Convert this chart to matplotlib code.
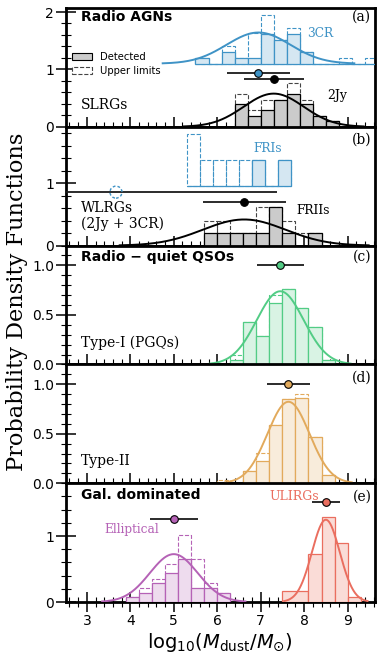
import numpy as np
import matplotlib.pyplot as plt
from matplotlib.patches import Patch
from matplotlib.ticker import MultipleLocator

# ---- data ----
# (a) SLRGs: 3CR (offset) and 2Jy
cr3_edges = [5.5, 5.8, 6.1, 6.4, 6.7, 7.0, 7.3, 7.6, 7.9, 8.2, 8.5, 8.8, 9.1, 9.4, 9.7]
cr3_det = [0.09, 0, 0.21, 0.09, 0.09, 0.52, 0.42, 0.52, 0.21, 0, 0, 0, 0, 0]
cr3_ul = [0.09, 0, 0.30, 0.09, 0.53, 0.84, 0.42, 0.62, 0.21, 0, 0, 0.10, 0, 0.10]
cr3_mu, cr3_sig, cr3_y = 6.95, 0.735, 0.944
cr3_base = 1.1

jy2_edges = [6.4, 6.7, 7.0, 7.3, 7.6, 7.9, 8.2, 8.5, 8.8]
jy2_det = [0.39, 0.19, 0.29, 0.47, 0.575, 0.39, 0.19, 0.10]
jy2_ul = [0.57, 0.30, 0.475, 0.47, 0.77, 0.475, 0.19, 0.10]
jy2_mu, jy2_sig, jy2_y = 7.30, 0.69, 0.83

# (b) WLRGs: FRIs (offset) and FRIIs
fri_edges = [5.3, 5.6, 5.9, 6.2, 6.5, 6.8, 7.1, 7.4, 7.7]
fri_det = [0, 0, 0, 0, 0, 0.42, 0, 0.42]
fri_ul = [0.84, 0.42, 0.42, 0.42, 0.42, 0.42, 0, 0.42]
fri_mu, fri_sig, fri_y = 3.67, 3.70, 0.855
fri_base = 0.95

frii_edges = [5.7, 6.0, 6.3, 6.6, 6.9, 7.2, 7.5, 7.8, 8.1, 8.4]
frii_det = [0.2, 0.2, 0.2, 0.2, 0.2, 0.615, 0.2, 0, 0.2]
frii_ul = [0.4, 0.4, 0.2, 0.2, 0.615, 0.615, 0.4, 0.2, 0.2]
frii_mu, frii_sig, frii_y = 6.62, 0.955, 0.695

# (c) Type-I (PGQs)
t1_edges = [6.3, 6.6, 6.9, 7.2, 7.5, 7.8, 8.1, 8.4, 8.7]
t1_det = [0.047, 0.426, 0.286, 0.62, 0.762, 0.57, 0.379, 0.047]
t1_ul = [0.097, 0.426, 0.286, 0.70, 0.762, 0.57, 0.379, 0.047]
t1_mu, t1_sig, t1_y = 7.45, 0.54, 1.0

# (d) Type-II
t2_edges = [6.0, 6.3, 6.6, 6.9, 7.2, 7.5, 7.8, 8.1, 8.4, 8.7]
t2_det = [0, 0, 0.121, 0.229, 0.583, 0.855, 0.862, 0.468, 0.081]
t2_ul = [0.037, 0, 0.121, 0.31, 0.583, 0.855, 0.896, 0.468, 0.081]
t2_mu, t2_sig, t2_y = 7.64, 0.485, 1.0

# (e) Ellipticals and ULIRGs
ell_edges = [3.9, 4.2, 4.5, 4.8, 5.1, 5.4, 5.7, 6.0, 6.3]
ell_det = [0.07, 0.14, 0.283, 0.434, 0.65, 0.217, 0.217, 0.14]
ell_ul = [0.07, 0.207, 0.35, 0.57, 1.015, 0.65, 0.283, 0.14]
ell_mu, ell_sig, ell_y = 5.0, 0.55, 1.253

uli_edges = [7.5, 8.1, 8.4, 8.7, 9.0, 9.3]
uli_det = [0.167, 0.727, 1.29, 0.889, 0.07]
uli_mu, uli_sig, uli_y = 8.5, 0.32, 1.51

ylims = [2.07, 1.9, 1.2, 1.2, 1.8]

BLUE, BLUE_F = '#3f93c6', '#d5e7f2'
GREY_F = '#cbcbcb'
GREEN, GREEN_F = '#52cc85', '#d9f3e4'
ORANGE, ORANGE_F = '#e2aa5c', '#f8ecdb'
PURPLE, PURPLE_F = '#b562b6', '#eedcee'
RED, RED_F = '#ea6e5f', '#fadcd7'
SERIF = 'DejaVu Serif'


def draw_hist(ax, edges, det, ul, color, fill, base=0.0, ulcolor=None):
    left = np.array(edges[:-1])
    w = np.diff(edges)
    if ul is not None:
        ax.bar(left, ul, width=w, bottom=base, align='edge', fill=False,
               edgecolor=ulcolor or color, ls='--', lw=0.8, zorder=2)
    ax.bar(left, det, width=w, bottom=base, align='edge', facecolor=fill,
           edgecolor=color, lw=0.9, zorder=3)


def draw_pdf(ax, mu, sig, color, base=0.0):
    x = np.linspace(mu - 3 * sig, mu + 3 * sig, 300)
    y = np.exp(-0.5 * ((x - mu) / sig) ** 2) / (sig * np.sqrt(2 * np.pi))
    ax.plot(x, y + base, color=color, lw=1.4, zorder=4)


def draw_point(ax, mu, sig, y, color):
    ax.errorbar(mu, y, xerr=sig, fmt='o', color='#1a1a1a', mfc=color, mec='k',
                mew=0.8, ms=5.5, lw=1.3, capsize=0, zorder=5)


def label(ax, x, y, s, size=10, **kw):
    kw.setdefault('family', SERIF)
    ax.text(x, y, s, transform=ax.transAxes, fontsize=size, va='center', **kw)


fig = plt.figure(figsize=(3.82, 6.55), dpi=100)
axes = fig.subplots(5, 1, sharex=True, gridspec_kw=dict(hspace=0))
fig.subplots_adjust(left=0.1728, right=0.9804, top=0.9878, bottom=0.0809)

for ax, top in zip(axes, ylims):
    ax.set_xlim(2.52, 9.62)
    ax.set_ylim(0, top)
    for s in ax.spines.values():
        s.set_linewidth(2)
    ax.xaxis.set_major_locator(MultipleLocator(1))
    ax.xaxis.set_minor_locator(MultipleLocator(0.2))
    ax.tick_params(which='major', direction='inout', length=14, width=1.1,
                   labelsize=10, pad=1.5)
    ax.tick_params(which='minor', direction='inout', length=7, width=0.8)

for ax in [axes[0], axes[1], axes[4]]:
    ax.yaxis.set_major_locator(MultipleLocator(1))
    ax.yaxis.set_minor_locator(MultipleLocator(0.2))
for ax in [axes[2], axes[3]]:
    ax.yaxis.set_major_locator(MultipleLocator(0.5))
    ax.yaxis.set_minor_locator(MultipleLocator(0.1))

# (a)
ax = axes[0]
draw_hist(ax, cr3_edges, cr3_det, cr3_ul, BLUE, BLUE_F, base=cr3_base)
draw_pdf(ax, cr3_mu, cr3_sig, BLUE, base=cr3_base)
draw_hist(ax, jy2_edges, jy2_det, jy2_ul, 'k', GREY_F, ulcolor='#444444')
draw_pdf(ax, jy2_mu, jy2_sig, 'k')
draw_point(ax, cr3_mu, cr3_sig, cr3_y, BLUE)
draw_point(ax, jy2_mu, jy2_sig, jy2_y, 'k')
label(ax, 0.048, 0.921, 'Radio AGNs', family='DejaVu Sans', fontweight='bold')
label(ax, 0.99, 0.923, '(a)', ha='right')
label(ax, 0.78, 0.787, '3CR', size=8.8, color=BLUE)
label(ax, 0.845, 0.267, '2Jy', size=9)
label(ax, 0.048, 0.182, 'SLRGs')
handles = [Patch(facecolor='#cccccc', edgecolor='k', lw=0.8, label='Detected'),
           Patch(facecolor='white', edgecolor='#444444', ls='--', lw=0.8,
                 label='Upper limits')]
ax.legend(handles=handles, loc='upper left', bbox_to_anchor=(0.01, 0.655),
          frameon=False, fontsize=7.2, handlelength=2.0, handleheight=0.75,
          handletextpad=0.8, labelspacing=0.4, borderaxespad=0, borderpad=0.3)

# (b)
ax = axes[1]
draw_hist(ax, fri_edges, fri_det, fri_ul, BLUE, BLUE_F, base=fri_base)
draw_hist(ax, frii_edges, frii_det, frii_ul, 'k', GREY_F, ulcolor='#444444')
draw_pdf(ax, frii_mu, frii_sig, 'k')
ax.errorbar(fri_mu, fri_y, xerr=fri_sig, fmt='none', ecolor='#1a1a1a',
            lw=1.3, capsize=0, zorder=5)
ax.scatter([fri_mu], [fri_y], s=75, facecolors='none', edgecolors=BLUE,
           linestyles=[(0, (2, 1.5))], linewidths=1.0, zorder=6)
draw_point(ax, frii_mu, frii_sig, frii_y, 'k')
label(ax, 0.99, 0.89, '(b)', ha='right')
label(ax, 0.607, 0.82, 'FRIs', size=8.8, color=BLUE)
label(ax, 0.748, 0.295, 'FRIIs', size=8.8)
label(ax, 0.048, 0.251, 'WLRGs\n(2Jy + 3CR)', linespacing=1.1)

# (c)
ax = axes[2]
draw_hist(ax, t1_edges, t1_det, t1_ul, GREEN, GREEN_F)
draw_pdf(ax, t1_mu, t1_sig, GREEN)
draw_point(ax, t1_mu, t1_sig, t1_y, GREEN)
label(ax, 0.048, 0.908, 'Radio \u2212 quiet QSOs', family='DejaVu Sans',
      fontweight='bold')
label(ax, 0.99, 0.908, '(c)', ha='right')
label(ax, 0.048, 0.179, 'Type-I (PGQs)')

# (d)
ax = axes[3]
draw_hist(ax, t2_edges, t2_det, t2_ul, ORANGE, ORANGE_F)
draw_pdf(ax, t2_mu, t2_sig, ORANGE)
draw_point(ax, t2_mu, t2_sig, t2_y, ORANGE)
label(ax, 0.99, 0.891, '(d)', ha='right')
label(ax, 0.048, 0.187, 'Type-II')

# (e)
ax = axes[4]
draw_hist(ax, ell_edges, ell_det, ell_ul, PURPLE, PURPLE_F)
draw_pdf(ax, ell_mu, ell_sig, PURPLE)
draw_point(ax, ell_mu, ell_sig, ell_y, PURPLE)
draw_hist(ax, uli_edges, uli_det, None, RED, RED_F)
draw_pdf(ax, uli_mu, uli_sig, RED)
draw_point(ax, uli_mu, uli_sig, uli_y, RED)
label(ax, 0.048, 0.899, 'Gal. dominated', family='DejaVu Sans',
      fontweight='bold')
label(ax, 0.99, 0.89, '(e)', ha='right')
label(ax, 0.659, 0.89, 'ULIRGs', size=9, color=RED)
label(ax, 0.123, 0.613, 'Elliptical', size=8.7, color=PURPLE)
ax.set_xlabel(r'$\mathrm{log}_{10}(M_{\rm dust}/M_{\odot})$', fontsize=14,
              labelpad=2)

fig.text(0.044, 0.539, 'Probability Density Functions', rotation=90,
         ha='center', va='center', fontsize=16.2, family=SERIF)

fig.savefig('out.png', dpi=100)
